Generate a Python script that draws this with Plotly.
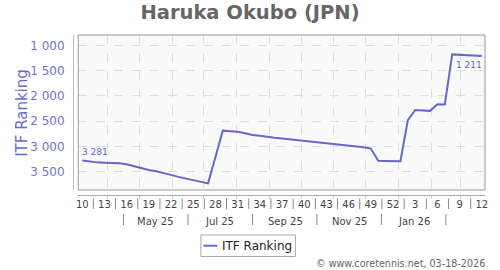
import pandas as pd
import plotly.graph_objects as go

# ---- data ----
dates = pd.date_range("2025-03-08", periods=55, freq="7D")
ranks = [3281, 3305, 3318, 3325, 3328, 3335, 3355, 3395, 3430, 3470,
         3495, 3525, 3565, 3605, 3640, 3665, 3700, 3735, 3210, 2690,
         2700, 2710, 2740, 2775, 2790, 2815, 2830, 2845, 2860, 2880,
         2895, 2910, 2925, 2940, 2950, 2965, 2985, 3005, 3020, 3045,
         3285, 3290, 3292, 3295, 2480, 2280, 2290, 2298, 2165, 2170,
         1180, 1190, 1200, 1205, 1211]
week_labels = ["10", "13", "16", "19", "22", "25", "28", "31", "34", "37",
               "40", "43", "46", "49", "52", "3", "6", "9", "12"]
month_labels = ["May 25", "Jul 25", "Sep 25", "Nov 25", "Jan 26"]
month_pos = ["2025-05-16", "2025-07-16", "2025-09-16", "2025-11-16", "2026-01-16"]
month_sep = ["2025-04-16", "2025-06-16", "2025-08-16", "2025-10-16", "2025-12-16", "2026-02-15"]
y_ticks = [1000, 1500, 2000, 2500, 3000, 3500]

LINE = "#6666cc"
FONT = "DejaVu Sans"

def fmt(v):
    return f"{v:,}".replace(",", " ")

fig = go.Figure()
fig.add_trace(go.Scatter(x=dates, y=ranks, mode="lines", name="ITF Ranking",
                         line=dict(color=LINE, width=2), showlegend=False))

L, R, T, B = 73, 13, 35, 75
W, H = 500, 270
pw, ph = W - L - R, H - T - B
xd0 = 5.3 / pw
yd0 = 5 / ph

def px(xpix):
    return (xpix - L) / pw

def py(ypix):
    return (H - B - ypix) / ph

tickdates = list(dates[::3])
shapes = []
# plot border
shapes.append(dict(type="rect", xref="paper", yref="paper", x0=xd0, x1=1, y0=yd0, y1=1,
                   line=dict(color="#999999", width=1), layer="above"))
# week separators
for a, b in zip(tickdates[:-1], tickdates[1:]):
    m = a + (b - a) / 2
    shapes.append(dict(type="line", xref="x", yref="paper", x0=m, x1=m,
                       y0=py(198.5), y1=py(209), line=dict(color="#888888", width=1)))
# month separators
for m in month_sep:
    shapes.append(dict(type="line", xref="x", yref="paper", x0=m, x1=m,
                       y0=py(214), y1=py(225), line=dict(color="#888888", width=1)))
# legend box
shapes.append(dict(type="rect", xref="paper", yref="paper", x0=px(201.5), x1=px(296.5),
                   y0=py(235), y1=py(256.5), line=dict(color="#aaaaaa", width=1),
                   fillcolor="white"))
shapes.append(dict(type="line", xref="paper", yref="paper", x0=px(204), x1=px(218),
                   y0=py(245.7), y1=py(245.7), line=dict(color=LINE, width=2)))

annotations = []
for lab, pos in zip(month_labels, month_pos):
    annotations.append(dict(x=pos, xref="x", y=py(221.5), yref="paper", text=lab,
                            showarrow=False, font=dict(family=FONT, size=10, color="#444444"),
                            xanchor="center", yanchor="middle"))
annotations.append(dict(x=px(21), y=py(112.6), xref="paper", yref="paper", text="ITF Ranking",
                        textangle=-90, showarrow=False, xanchor="center", yanchor="middle",
                        font=dict(family=FONT, size=15, color="#6a6acc")))
annotations.append(dict(x=px(221), y=py(245.7), xref="paper", yref="paper", text="ITF Ranking",
                        showarrow=False, xanchor="left", yanchor="middle",
                        font=dict(family=FONT, size=12, color="#222222")))
annotations.append(dict(x=px(489), y=py(263.5), xref="paper", yref="paper",
                        text="© www.coretennis.net, 03-18-2026", showarrow=False,
                        xanchor="right", yanchor="middle",
                        font=dict(family=FONT, size=9.6, color="#666666")))
annotations.append(dict(x=dates[0], y=ranks[0], xref="x", yref="y", text=fmt(ranks[0]),
                        showarrow=False, xanchor="left", yanchor="middle", yshift=9, xshift=-2,
                        font=dict(family=FONT, size=9, color=LINE)))
annotations.append(dict(x=dates[-1], y=ranks[-1], xref="x", yref="y", text=fmt(ranks[-1]),
                        showarrow=False, xanchor="right", yanchor="middle", yshift=-9, xshift=2,
                        font=dict(family=FONT, size=9, color=LINE)))

fig.update_layout(
    width=W, height=H,
    margin=dict(l=L, r=R, t=T, b=B, pad=0),
    paper_bgcolor="white", plot_bgcolor="#fafafa",
    separators=". ",
    font=dict(family=FONT),
    title=dict(text="<b>Haruka Okubo (JPN)</b>", x=0.5, xref="container", xanchor="center",
               y=1 - 12.5 / H, yref="container", yanchor="middle",
               font=dict(family=FONT, size=19.5, color="#666666")),
    xaxis=dict(type="date", domain=[xd0, 1], anchor="free", position=0,
               range=["2025-03-04 06:00", "2026-03-24"],
               tickmode="array", tickvals=tickdates, ticktext=week_labels,
               showgrid=False, ticks="", zeroline=False,
               showline=True, linecolor="#aaaaaa", linewidth=1,
               tickfont=dict(family=FONT, size=10, color="#444444"),
               minor=dict(tickmode="linear", tick0="2025-01-01", dtick="M1",
                          showgrid=True, gridcolor="#dddddd", griddash="dash", gridwidth=1,
                          ticks="outside", ticklen=3, tickcolor="#cccccc")),
    yaxis=dict(domain=[yd0, 1], anchor="free", position=0,
               range=[3865, 796], tickvals=y_ticks, separatethousands=True,
               showgrid=True, gridcolor="#dddddd", griddash="dash", gridwidth=1,
               zeroline=False, showline=True, linecolor="#b8b8e6", linewidth=1,
               ticks="", ticklabelstandoff=6,
               tickfont=dict(family=FONT, size=12, color="#7373cc")),
    shapes=shapes,
    annotations=annotations,
)

fig.write_html("out.html")
